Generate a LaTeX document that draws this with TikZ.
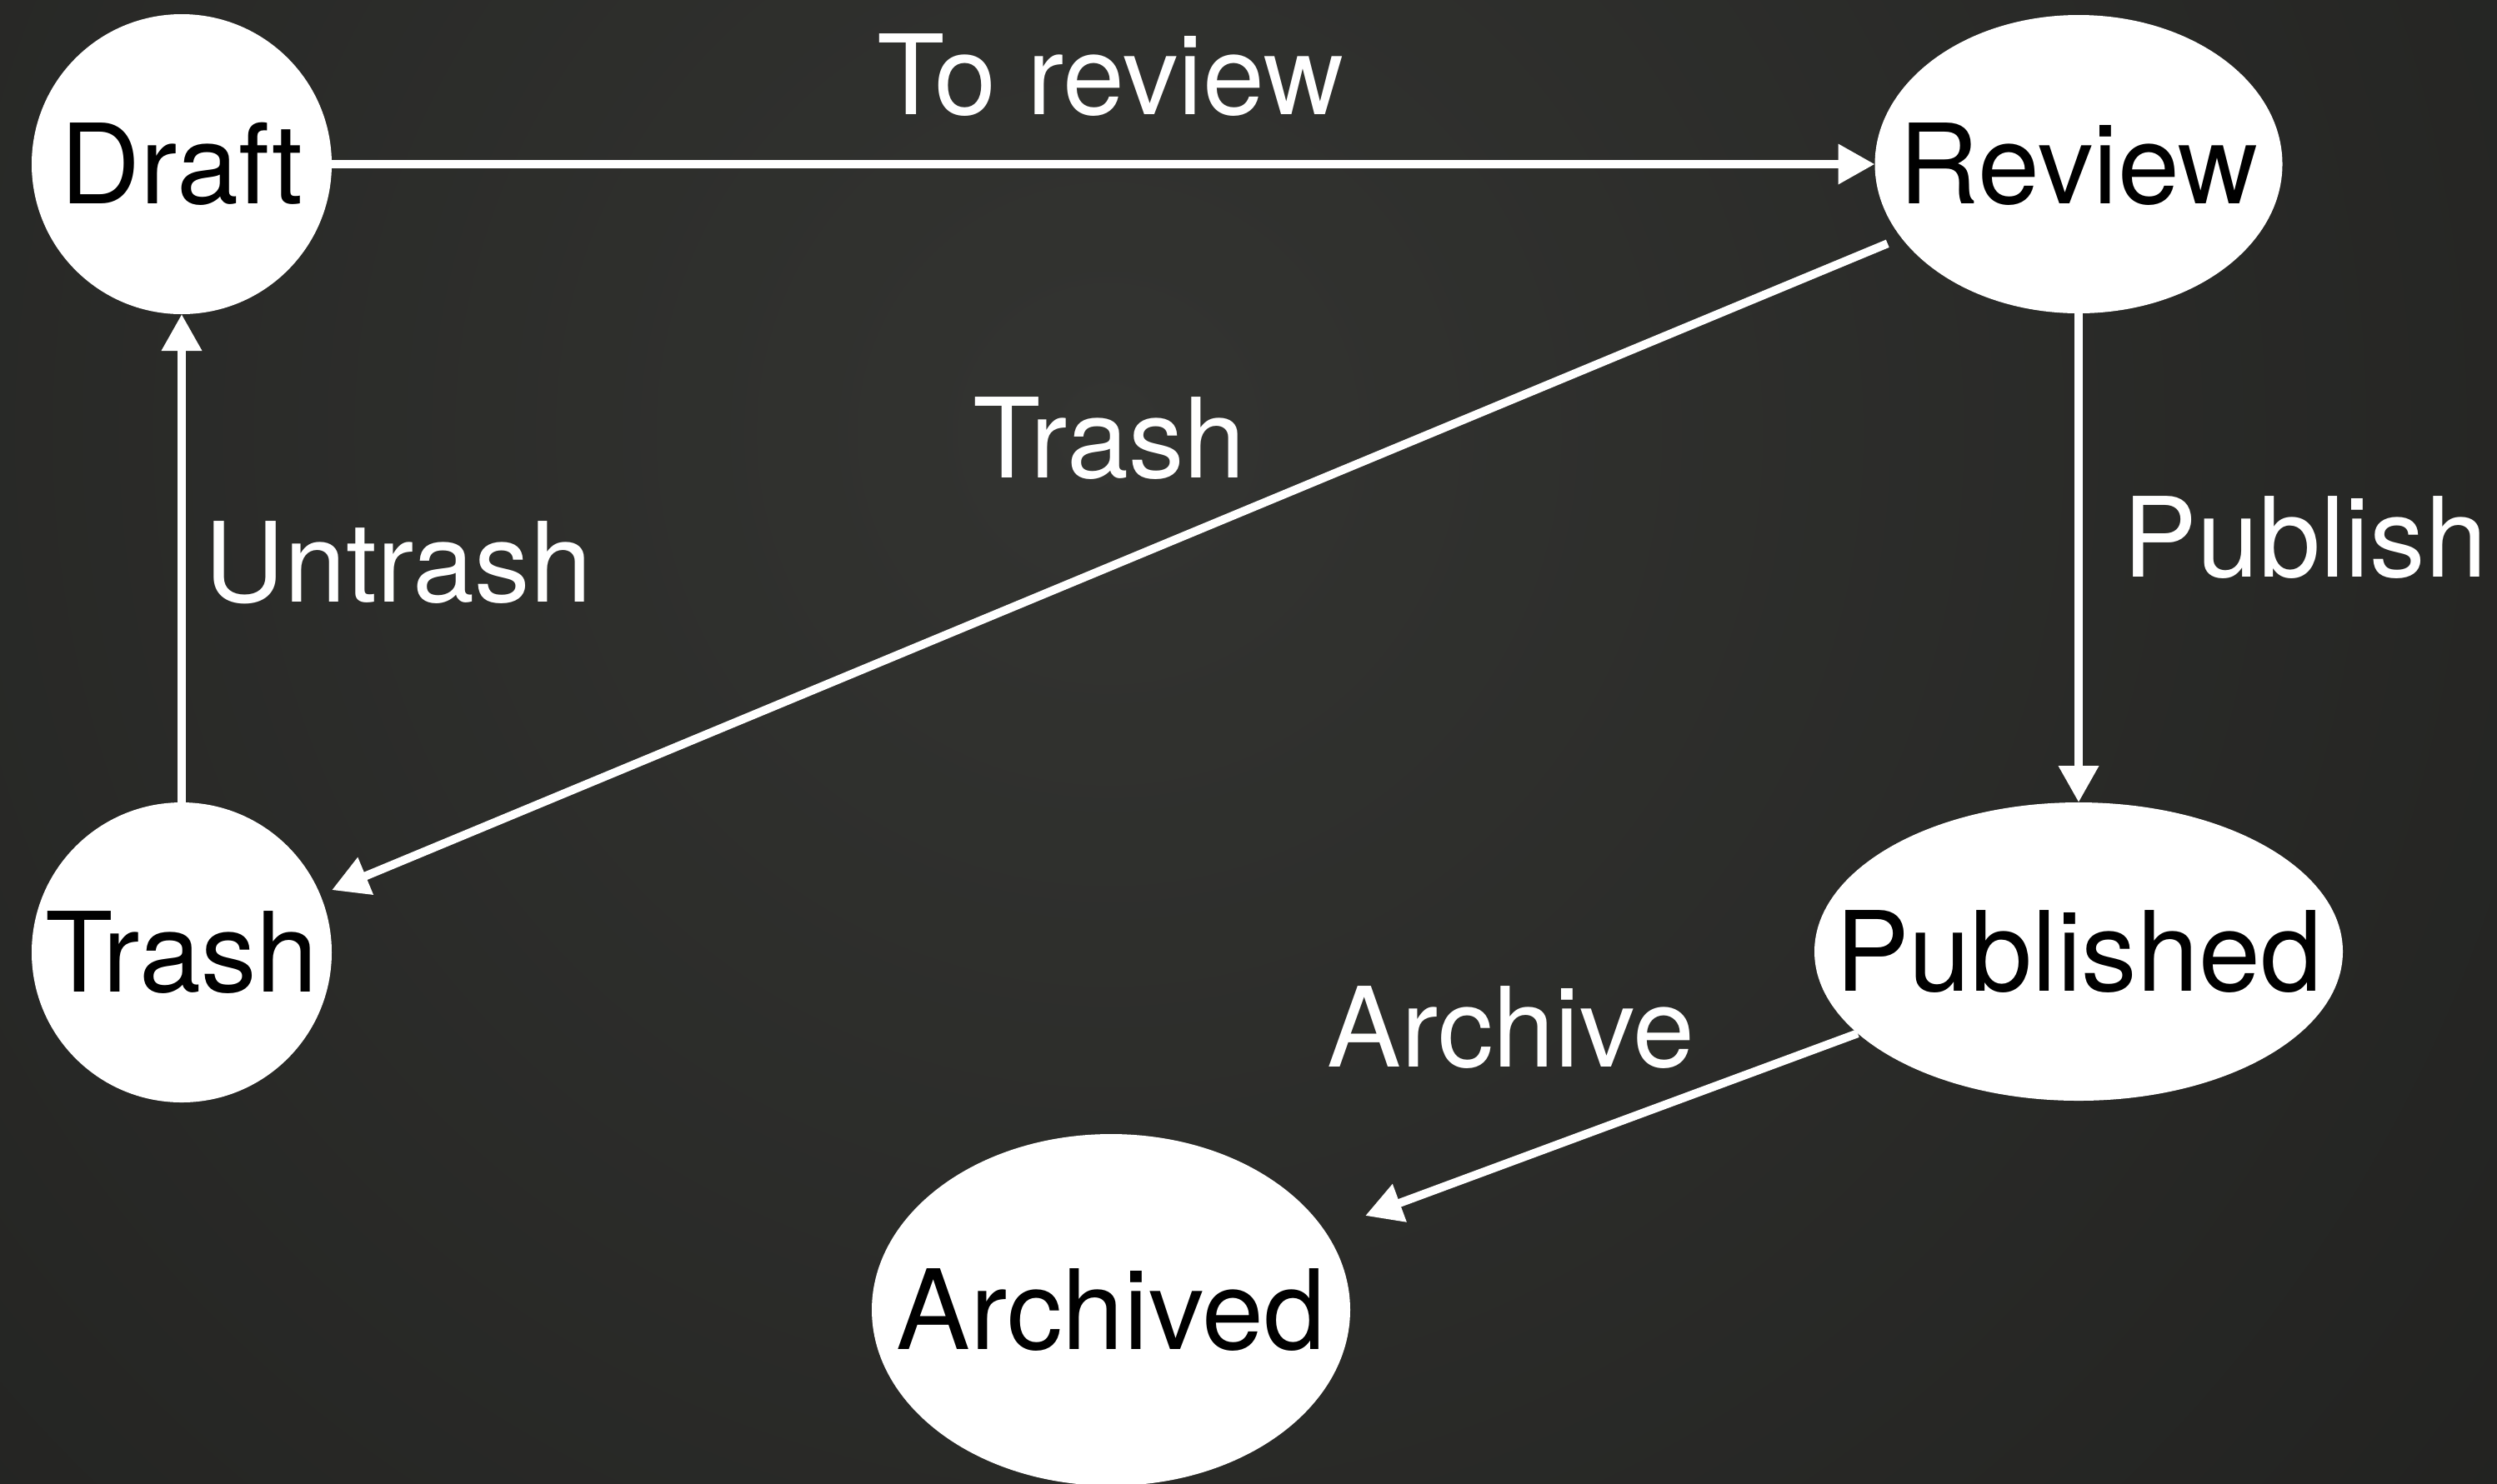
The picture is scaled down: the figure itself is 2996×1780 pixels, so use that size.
\documentclass[tikz,border=0pt]{standalone}
\usepackage{fontspec}
\setmainfont{TeX Gyre Heros}
\usetikzlibrary{arrows.meta,shapes.geometric}
\definecolor{bgin}{RGB}{51,52,49}
\definecolor{bgout}{RGB}{23,23,22}
\begin{document}
\begin{tikzpicture}[x=0.25pt,y=-0.25pt,
  state/.style={fill=white, draw=none, inner sep=0pt, outer sep=0pt},
  statetext/.style={font=\fontsize{33.25}{40}\selectfont, text=black, inner sep=0pt},
  edge/.style={draw=white, line width=2.5pt, -{Triangle[length=11pt,width=11.5pt]}},
  elabel/.style={font=\fontsize{33.25}{40}\selectfont, text=white, inner sep=0pt}]

\useasboundingbox (0,0) rectangle (2996,1780);
\begin{scope}
  \clip (0,0) rectangle (2996,1780);
  \shade[inner color=bgin, outer color=bgout] (-2170,-2980) rectangle (4830,4020);
\end{scope}

% states
\node[state, circle, minimum size=90pt, label={[statetext]center:Draft}] (draft) at (218,197) {};
\node[state, ellipse, minimum width=122.25pt, minimum height=89.5pt, label={[statetext]center:Review}] (review) at (2494,197) {};
\node[state, circle, minimum size=90pt, label={[statetext]center:Trash}] (trash) at (218,1143) {};
\node[state, ellipse, minimum width=158.5pt, minimum height=89.5pt, label={[statetext]center:Published}] (published) at (2494,1142) {};
\node[state, ellipse, minimum width=143.5pt, minimum height=105.5pt, label={[statetext]center:Archived}] (archived) at (1333,1572) {};

% transitions
\draw[edge] (draft) -- (review);
\draw[edge] (trash) -- (draft);
\draw[edge] (review) -- (published);
\draw[edge, shorten <=4.5pt, shorten >=3.75pt] (review) -- (trash);
\draw[edge, shorten >=13pt] (published) -- (archived);

% transition labels
\node[elabel, anchor=base] (ltoreview) at (1332,137) {To review};
\node[elabel, anchor=base] (ltrash) at (1331,573) {Trash};
\node[elabel, anchor=base west] (luntrash) at (245,722) {Untrash};
\node[elabel, anchor=base west] (lpublish) at (2547,692) {Publish};
\node[elabel, anchor=base west] (larchive) at (1592,1280) {Archive};
\end{tikzpicture}
\end{document}
